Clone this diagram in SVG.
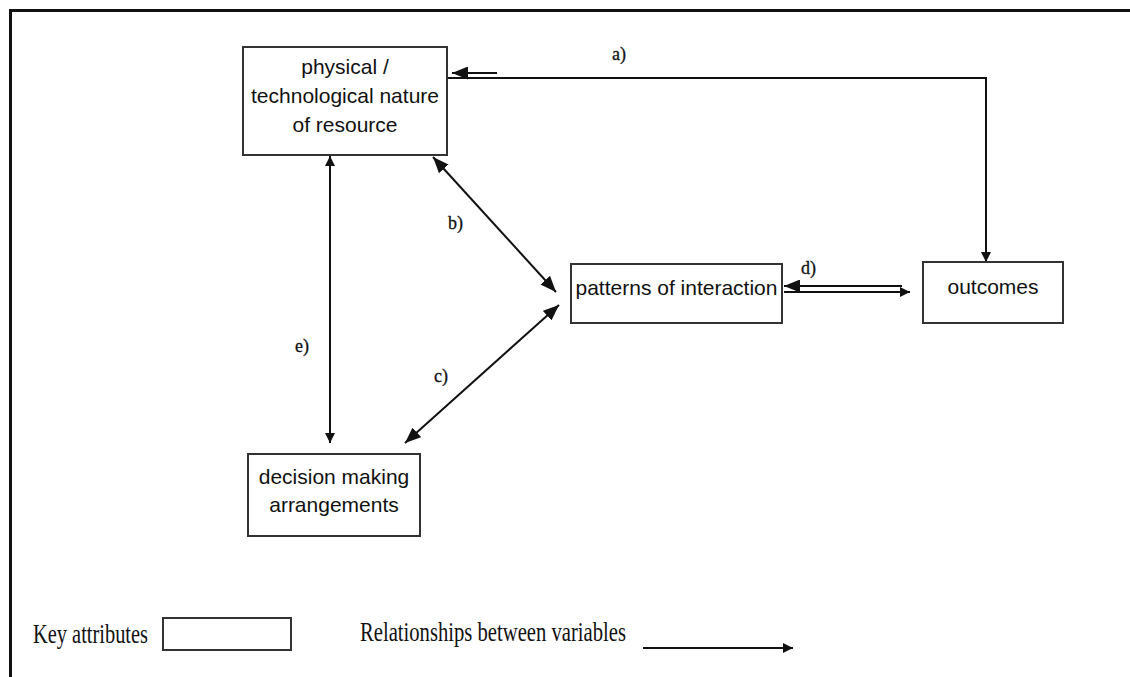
<svg xmlns="http://www.w3.org/2000/svg" width="1130" height="677" viewBox="0 0 1130 677">
<style>
.box{fill:#fff;stroke:#333;stroke-width:2}
.lbl{font-family:"Liberation Sans",Arial,sans-serif;font-size:21px;fill:#111;text-anchor:middle}
.ser{font-family:"Liberation Serif","Times New Roman",serif;fill:#111}
.tag{font-size:18px;stroke:#111;stroke-width:0.3}
.ln{fill:none;stroke:#111;stroke-width:2}
</style>
<defs>
<marker id="sm" markerUnits="userSpaceOnUse" markerWidth="10" markerHeight="10" refX="10" refY="5" orient="auto-start-reverse"><path d="M0,0 L10,5 L0,10 z" fill="#111"/></marker>
<marker id="lg" markerUnits="userSpaceOnUse" markerWidth="16" markerHeight="13" refX="16" refY="6.5" orient="auto-start-reverse"><path d="M0,0 L16,6.5 L0,13 z" fill="#111"/></marker>
</defs>
<rect width="1130" height="677" fill="#fff"/>
<path d="M10.5,677 V10.5 H1130" fill="none" stroke="#111" stroke-width="3"/>

<g id="connectors">
<path class="ln" d="M447,78 H986 V262" marker-end="url(#sm)"/>
<path class="ln" d="M497,73 H452" marker-end="url(#lg)"/>
<path class="ln" d="M433,157 L556,292" marker-start="url(#lg)" marker-end="url(#lg)"/>
<path class="ln" d="M559,305 L405,443" marker-start="url(#lg)" marker-end="url(#lg)"/>
<path class="ln" d="M330,156 V443" marker-start="url(#sm)" marker-end="url(#sm)"/>
<path class="ln" d="M902,286 H784" marker-end="url(#lg)"/>
<path class="ln" d="M784,292 H910" marker-end="url(#sm)"/>
<text class="ser tag" x="612" y="60">a)</text>
<text class="ser tag" x="448" y="229">b)</text>
<text class="ser tag" x="434" y="382">c)</text>
<text class="ser tag" x="801" y="274">d)</text>
<text class="ser tag" x="295" y="352">e)</text>
</g>

<g id="node-physical">
<rect class="box" x="243" y="47" width="204" height="108"/>
<text class="lbl" x="345" y="74">physical /</text>
<text class="lbl" x="345" y="103">technological nature</text>
<text class="lbl" x="345" y="132">of resource</text>
</g>

<g id="node-patterns">
<rect class="box" x="571" y="264" width="211" height="59"/>
<text class="lbl" x="676.5" y="295">patterns of interaction</text>
</g>

<g id="node-outcomes">
<rect class="box" x="923" y="262" width="140" height="61"/>
<text class="lbl" x="993" y="294">outcomes</text>
</g>

<g id="node-decision">
<rect class="box" x="248" y="454" width="172" height="82"/>
<text class="lbl" x="334" y="484">decision making</text>
<text class="lbl" x="334" y="512">arrangements</text>
</g>

<g id="legend">
<text class="ser" x="33" y="643" font-size="27" textLength="115" lengthAdjust="spacingAndGlyphs">Key attributes</text>
<rect class="box" x="163" y="618" width="128" height="32"/>
<text class="ser" x="360" y="641" font-size="27" textLength="266" lengthAdjust="spacingAndGlyphs">Relationships between variables</text>
<path class="ln" d="M643,648 H793" marker-end="url(#sm)"/>
</g>
</svg>
